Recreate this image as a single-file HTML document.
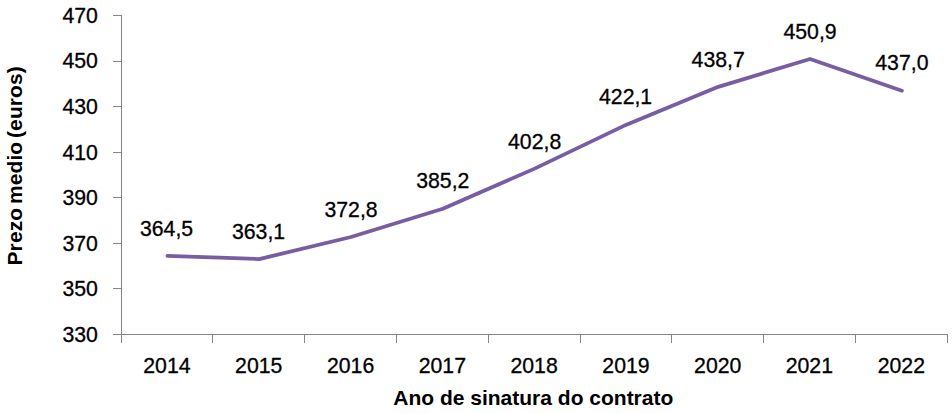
<!DOCTYPE html>
<html><head><meta charset="utf-8"><style>
html,body{margin:0;padding:0;background:#fff;}
body{width:952px;height:413px;overflow:hidden;}
svg{display:block;}
.t{font-family:"Liberation Sans",sans-serif;font-size:21.25px;fill:#000;stroke:#000;stroke-width:0.3px;}
.b{font-family:"Liberation Sans",sans-serif;font-size:21px;font-weight:bold;fill:#000;}
</style></head><body>
<svg width="952" height="413" viewBox="0 0 952 413">
<rect x="121" y="15" width="1" height="320" fill="#868686"/>
<rect x="121" y="334" width="827" height="1" fill="#868686"/>
<rect x="113" y="15" width="8" height="1" fill="#868686"/>
<text x="97.90" y="22.60" text-anchor="end" class="t">470</text>
<rect x="113" y="61" width="8" height="1" fill="#868686"/>
<text x="97.90" y="68.21" text-anchor="end" class="t">450</text>
<rect x="113" y="106" width="8" height="1" fill="#868686"/>
<text x="97.90" y="114.00" text-anchor="end" class="t">430</text>
<rect x="113" y="152" width="8" height="1" fill="#868686"/>
<text x="97.90" y="159.64" text-anchor="end" class="t">410</text>
<rect x="113" y="197" width="8" height="1" fill="#868686"/>
<text x="97.90" y="205.00" text-anchor="end" class="t">390</text>
<rect x="113" y="243" width="8" height="1" fill="#868686"/>
<text x="97.90" y="251.00" text-anchor="end" class="t">370</text>
<rect x="113" y="288" width="8" height="1" fill="#868686"/>
<text x="97.90" y="296.00" text-anchor="end" class="t">350</text>
<rect x="113" y="334" width="8" height="1" fill="#868686"/>
<text x="97.90" y="342.00" text-anchor="end" class="t">330</text>
<rect x="121" y="334" width="1" height="9" fill="#868686"/>
<rect x="212" y="334" width="1" height="9" fill="#868686"/>
<rect x="304" y="334" width="1" height="9" fill="#868686"/>
<rect x="396" y="334" width="1" height="9" fill="#868686"/>
<rect x="488" y="334" width="1" height="9" fill="#868686"/>
<rect x="580" y="334" width="1" height="9" fill="#868686"/>
<rect x="671" y="334" width="1" height="9" fill="#868686"/>
<rect x="763" y="334" width="1" height="9" fill="#868686"/>
<rect x="855" y="334" width="1" height="9" fill="#868686"/>
<rect x="947" y="334" width="1" height="9" fill="#868686"/>
<text x="166.91" y="373.00" text-anchor="middle" class="t">2014</text>
<text x="258.72" y="373.00" text-anchor="middle" class="t">2015</text>
<text x="350.64" y="373.00" text-anchor="middle" class="t">2016</text>
<text x="442.34" y="373.00" text-anchor="middle" class="t">2017</text>
<text x="534.14" y="373.00" text-anchor="middle" class="t">2018</text>
<text x="625.96" y="373.00" text-anchor="middle" class="t">2019</text>
<text x="717.76" y="373.00" text-anchor="middle" class="t">2020</text>
<text x="809.32" y="373.00" text-anchor="middle" class="t">2021</text>
<text x="901.38" y="373.00" text-anchor="middle" class="t">2022</text>
<polyline points="167.41,255.89 259.22,259.08 351.02,236.98 442.84,208.72 534.64,168.62 626.46,124.64 718.26,86.82 810.08,59.02 901.88,90.69" fill="none" stroke="#775DA2" stroke-width="3.8" stroke-linejoin="round" stroke-linecap="round"/>
<text x="166.56" y="236.49" text-anchor="middle" class="t">364,5</text>
<text x="258.57" y="238.58" text-anchor="middle" class="t">363,1</text>
<text x="351.02" y="216.88" text-anchor="middle" class="t">372,8</text>
<text x="442.84" y="188.22" text-anchor="middle" class="t">385,2</text>
<text x="534.64" y="149.02" text-anchor="middle" class="t">402,8</text>
<text x="625.61" y="104.14" text-anchor="middle" class="t">422,1</text>
<text x="718.16" y="67.32" text-anchor="middle" class="t">438,7</text>
<text x="810.08" y="38.52" text-anchor="middle" class="t">450,9</text>
<text x="901.88" y="70.19" text-anchor="middle" class="t">437,0</text>
<text x="533.30" y="404.70" text-anchor="middle" class="b">Ano de sinatura do contrato</text>
<text transform="translate(22.10,165.80) rotate(-90)" x="0" y="0" text-anchor="middle" class="b" style="word-spacing:-2.2px;letter-spacing:0.1px">Prezo medio (euros)</text>
</svg>
</body></html>
